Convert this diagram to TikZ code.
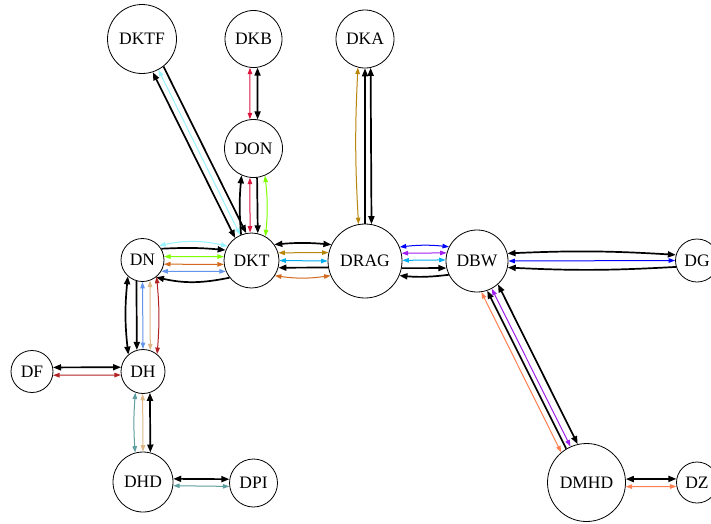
\documentclass[tikz,border=0pt]{standalone}
\usepackage{fontspec}
\setmainfont{Liberation Serif}
\usetikzlibrary{arrows.meta}
\definecolor{lcyan}{RGB}{152,245,255}
\definecolor{chart}{RGB}{127,255,0}
\definecolor{crim}{RGB}{220,20,60}
\definecolor{dgold}{RGB}{184,134,11}
\definecolor{choc}{RGB}{210,105,30}
\definecolor{cflower}{RGB}{100,149,237}
\definecolor{xpurple}{RGB}{160,32,240}
\definecolor{burly}{RGB}{222,184,135}
\definecolor{fbrick}{RGB}{178,34,34}
\definecolor{cadet}{RGB}{95,158,160}
\definecolor{xcoral}{RGB}{255,127,80}
\begin{document}
\begin{tikzpicture}[x=1pt,y=1pt,
  nd/.style={circle,draw,line width=0.8pt,inner sep=0pt,fill=white,font=\fontsize{17.5}{20}\selectfont},
  tk/.style={line width=1.7pt,>={Triangle[length=8pt,width=6pt]}},
  tn/.style={line width=1pt,>={Triangle[length=6.5pt,width=4.5pt]}}]
\useasboundingbox (0,0) rectangle (711,-523);
\fill[white] (0,0) rectangle (711,-523);
% nodes
\node[nd,minimum size=69pt] (DKTF) at (142,-39) {DKTF};
\node[nd,minimum size=57pt] (DKB) at (253.5,-39) {DKB};
\node[nd,minimum size=58pt] (DKA) at (365,-39) {DKA};
\node[nd,minimum size=58pt] (DON) at (253.5,-148.5) {DON};
\node[nd,minimum size=55pt] (DKT) at (251.5,-260.5) {DKT};
\node[nd,minimum size=43pt] (DN) at (142.5,-260) {DN};
\node[nd,minimum size=74pt] (DRAG) at (365,-261) {DRAG};
\node[nd,minimum size=62pt] (DBW) at (477,-261) {DBW};
\node[nd,minimum size=43pt] (DG) at (697,-260.5) {DG};
\node[nd,minimum size=42pt] (DF) at (32,-371.5) {DF};
\node[nd,minimum size=44pt] (DH) at (143,-371.5) {DH};
\node[nd,minimum size=60pt] (DHD) at (143,-482) {DHD};
\node[nd,minimum size=48pt] (DPI) at (253.5,-483) {DPI};
\node[nd,minimum size=78pt] (DMHD) at (586.5,-482.5) {DMHD};
\node[nd,minimum size=41pt] (DZ) at (697,-482.5) {DZ};
% DKTF-DKT
\draw[tk,<->] (DKTF.288) -- (DKT.126.8);
\draw[tn,lcyan,<->] (DKTF.298) -- (DKT.114.2);
\draw[tk,->] (DKTF.308) -- (DKT.101.6);
% DKB-DON
\draw[tn,crim,<->] (DKB.263) -- (DON.97);
\draw[tk,<->] (DKB.278) -- (DON.82);
% DON-DKT
\draw[tk,<-] (DON.246.6) to[bend right=5] (DKT.112.4);
\draw[tn,crim,<->] (DON.263) -- (DKT.93);
\draw[tk,->] (DON.277) -- (DKT.77.8);
\draw[tn,chart,<->] (DON.293.4) to[bend left=6] (DKT.60.6);
% DKA-DRAG
\draw[tn,dgold,<->] (DKA.256.6) to[bend right=3] (DRAG.100.4);
\draw[tk,<-] (DKA.270) -- (DRAG.90);
\draw[tk,<->] (DKA.281.9) -- (DRAG.80.7);
% DN-DKT
\draw[tn,lcyan,<->] (DN.41) to[bend left=12] (DKT.149);
\draw[tk,->] (DN.31) to[bend left=4] (DKT.158.7);
\draw[tn,chart,<->] (DN.9) -- (DKT.172.7);
\draw[tn,choc,<->] (DN.349.3) -- (DKT.188.4);
\draw[tn,cflower,<->] (DN.329.2) -- (DKT.203.6);
\draw[tk,<-] (DN.308) to[bend right=12] (DKT.218);
% DKT-DRAG
\draw[tk,<->] (DKT.35.6) to[bend left=5] (DRAG.154.4);
\draw[tn,dgold,<->] (DKT.16.9) -- (DRAG.167.5);
\draw[tn,cyan,<->] (DKT.0) -- (DRAG.180);
\draw[tk,<-] (DKT.345.3) -- (DRAG.190.9);
\draw[tn,choc,<->] (DKT.327) to[bend right=8] (DRAG.203.9);
% DRAG-DBW
\draw[tn,blue,<->] (DRAG.22.2) to[bend left=6] (DBW.153.2);
\draw[tn,xpurple,<->] (DRAG.12.5) -- (DBW.165);
\draw[tn,cyan,<->] (DRAG.1.5) -- (DBW.178);
\draw[tk,->] (DRAG.349.1) -- (DBW.193.1);
\draw[tk,<-] (DRAG.337.8) to[bend right=6] (DBW.206.8);
% DBW-DG
\draw[tk,<->] (DBW.14) to[bend left=3] (DG.165);
\draw[tn,blue,<->] (DBW.0) -- (DG.180);
\draw[tk,<-] (DBW.348) to[bend right=3] (DG.197.6);
% DN-DH
\draw[tk,<->] (DN.228.7) to[bend right=6] (DH.131.9);
\draw[tk,->] (DN.254.4) -- (DH.106.6);
\draw[tn,cflower,<->] (DN.270.5) -- (DH.90.8);
\draw[tn,burly,<->] (DN.290.4) -- (DH.71.5);
\draw[tn,fbrick,<->] (DN.310.6) to[bend left=5] (DH.51.5);
% DF-DH
\draw[tk,<->] (DF.11) -- (DH.169.5);
\draw[tn,fbrick,<->] (DF.350.4) -- (DH.189.2);
% DH-DHD
\draw[tn,cadet,<->] (DH.250.6) to[bend right=4] (DHD.105.5);
\draw[tn,burly,<->] (DH.269) -- (DHD.90.6);
\draw[tk,<->] (DH.288.5) -- (DHD.76.5);
% DHD-DPI
\draw[tk,<->] (DHD.6.7) -- (DPI.171.6);
\draw[tn,cadet,<->] (DHD.353.3) -- (DPI.188.4);
% DBW-DMHD
\draw[tn,xcoral,<->] (DBW.278.7) -- (DMHD.130.3);
\draw[tk,<-] (DBW.289.3) -- (DMHD.121.9);
\draw[tn,xpurple,<->] (DBW.298.5) -- (DMHD.114.5);
\draw[tk,<->] (DBW.312.2) -- (DMHD.103.7);
% DMHD-DZ
\draw[tk,<->] (DMHD.5.1) -- (DZ.170.2);
\draw[tn,xcoral,<->] (DMHD.354.1) -- (DZ.191.2);
\end{tikzpicture}
\end{document}
